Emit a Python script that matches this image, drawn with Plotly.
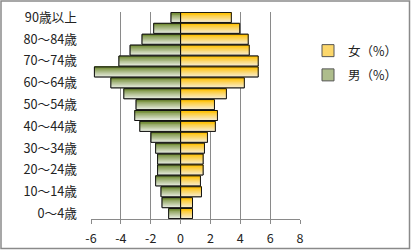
import plotly.graph_objects as go

categories = ["0〜4歳", "5〜9歳", "10〜14歳", "15〜19歳", "20〜24歳", "25〜29歳",
              "30〜34歳", "35〜39歳", "40〜44歳", "45〜49歳", "50〜54歳", "55〜59歳",
              "60〜64歳", "65〜69歳", "70〜74歳", "75〜79歳", "80〜84歳", "85〜89歳", "90歳以上"]
female = [0.8, 0.8, 1.4, 1.33, 1.51, 1.51, 1.6, 1.8, 2.33, 2.47, 2.27, 3.07,
          4.27, 5.2, 5.2, 4.6, 4.53, 3.96, 3.4]
male = [-0.8, -1.24, -1.31, -1.67, -1.54, -1.54, -1.67, -1.98, -2.73, -3.07, -2.98, -3.8,
        -4.67, -5.77, -4.13, -3.38, -2.58, -1.8, -0.64]
x_ticks = [-6, -4, -2, 0, 2, 4, 6, 8]

FONT = "Noto Sans CJK JP"
HALF = 0.46
N = 12

def lerp(c1, c2, t):
    return "rgb(%d,%d,%d)" % tuple(round(a + (b - a) * t) for a, b in zip(c1, c2))

series = [
    ("女（%）", female, (255, 192, 0), (248, 238, 214)),
    ("男（%）", male, (112, 138, 50), (236, 240, 230)),
]

fig = go.Figure()
for name, vals, dark, light in series:
    fig.add_trace(go.Bar(
        y=categories, x=vals, orientation="h", name=name,
        width=2 * HALF, offset=-HALF,
        marker=dict(color=lerp(dark, light, 0.5), line=dict(color="#555", width=1)),
        hoverinfo="skip", legendgroup=name,
    ))
for name, vals, dark, light in series:
    for j in range(N, 0, -1):
        w = 2 * HALF * j / N
        fig.add_trace(go.Bar(
            y=categories, x=vals, orientation="h", showlegend=False,
            width=w, offset=HALF - w,
            marker=dict(color=lerp(dark, light, (j - 0.5) / N), line=dict(width=0)),
            hoverinfo="skip",
        ))
for name, vals, dark, light in series:
    fig.add_trace(go.Bar(
        y=categories, x=vals, orientation="h", showlegend=False,
        width=2 * HALF, offset=-HALF,
        marker=dict(color="rgba(0,0,0,0)", line=dict(color="#111", width=1)),
        hoverinfo="skip",
    ))

L, R, T, B = 91, 111, 12, 31
W, H = 411, 250
pw, ph = W - L - R, H - T - B

def px_x(p):
    return (p - L) / pw

def px_y(p):
    return (H - B - p) / ph

fig.add_shape(type="rect", xref="paper", yref="paper",
              x0=px_x(1), x1=px_x(409.5), y0=px_y(248.5), y1=px_y(1),
              line=dict(color="#8a8a8a", width=1.5), layer="below")

fig.update_layout(
    width=W, height=H, barmode="overlay",
    margin=dict(l=L, r=R, t=T, b=B, pad=0, autoexpand=False),
    paper_bgcolor="white", plot_bgcolor="white",
    font=dict(family=FONT, size=12, color="#222"),
    showlegend=True,
    legend=dict(x=px_x(308), y=px_y(36), xanchor="left", yanchor="top",
                traceorder="grouped", tracegroupgap=5, itemwidth=30,
                font=dict(family=FONT, size=12.5, color="#222"),
                bgcolor="rgba(0,0,0,0)"),
    xaxis=dict(range=[-6, 8], tickmode="array", tickvals=x_ticks,
               ticktext=[str(v) for v in x_ticks],
               showgrid=True, gridcolor="#8a8a8a", gridwidth=1,
               zeroline=True, zerolinecolor="#8a8a8a", zerolinewidth=1,
               showline=True, linecolor="#8a8a8a", linewidth=1,
               ticks="outside", ticklen=4, tickcolor="#8a8a8a",
               ticklabelstandoff=4,
               tickfont=dict(family=FONT, size=12.5, color="#222"), fixedrange=True),
    yaxis=dict(type="category", categoryorder="array", categoryarray=categories,
               range=[-0.5, len(categories) - 0.5],
               tickmode="array", tickvals=categories[::2], ticktext=categories[::2],
               showgrid=False, zeroline=False, showline=False, ticks="",
               ticklabelstandoff=13,
               tickfont=dict(family=FONT, size=12.7, color="#222"), fixedrange=True),
)

fig.write_html("out.html")
